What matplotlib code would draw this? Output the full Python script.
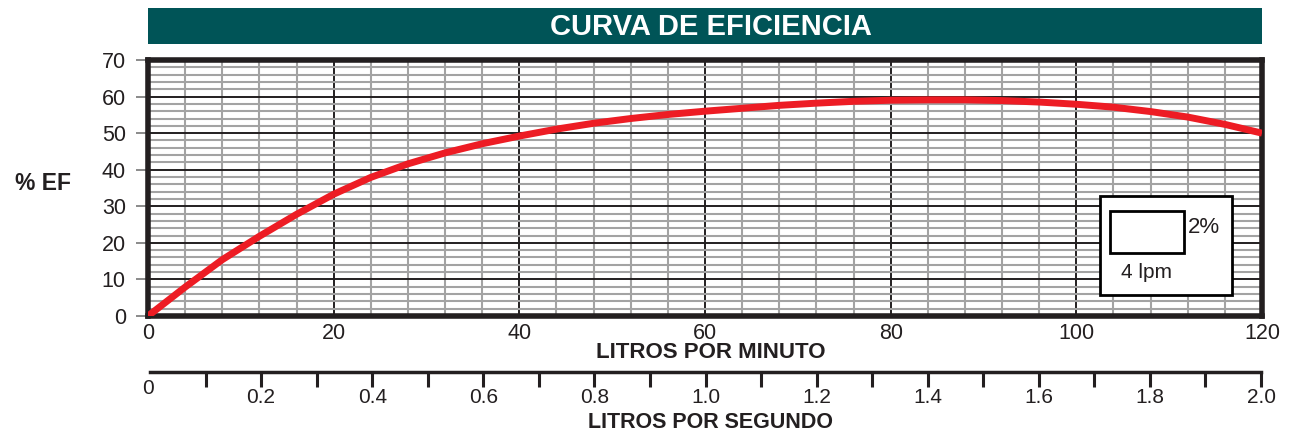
import matplotlib
matplotlib.use("Agg")
import matplotlib.pyplot as plt
from matplotlib.patches import Rectangle
import numpy as np

plt.rcParams['font.family'] = ['Liberation Sans', 'DejaVu Sans']

# ---- data ----
lpm = [0, 4, 8, 12, 16, 20, 24, 28, 32, 36, 40, 44, 48, 52, 56, 60, 64, 68,
       72, 76, 80, 84, 88, 92, 96, 100, 104, 108, 112, 116, 120]
eff = [0, 7.9, 15.4, 21.8, 27.8, 33.3, 37.9, 41.6, 44.6, 47.1, 49.2, 51.1,
       52.7, 54.0, 55.1, 56.0, 56.8, 57.6, 58.2, 58.7, 59.0, 59.1, 59.1, 58.9,
       58.5, 57.9, 57.1, 55.9, 54.4, 52.4, 50.0]

x_major = [0, 20, 40, 60, 80, 100, 120]
y_major = [0, 10, 20, 30, 40, 50, 60, 70]
lps_major = [0.2, 0.4, 0.6, 0.8, 1.0, 1.2, 1.4, 1.6, 1.8, 2.0]
lps_major_labels = ['0.2', '0.4', '0.6', '0.8', '1.0', '1.2', '1.4', '1.6', '1.8', '2.0']
lps_minor = [0.1, 0.3, 0.5, 0.7, 0.9, 1.1, 1.3, 1.5, 1.7, 1.9]

title = "CURVA DE EFICIENCIA"
xlabel = "LITROS POR MINUTO"
x2label = "LITROS POR SEGUNDO"
ylabel = "% EF"
legend_y = "2%"
legend_x = "4 lpm"

W, H = 1289, 432
fig = plt.figure(figsize=(W / 100, H / 100), dpi=100)

def fx(px):
    return px / W

def fy(py):
    return 1 - py / H

L, R, T, B = 148, 1262, 60, 316
ax = fig.add_axes([fx(L), fy(B), fx(R) - fx(L), fy(T) - fy(B)])
ax.set_xlim(0, 120)
ax.set_ylim(0, 70)

# grid
ax.set_xticks(x_major)
ax.set_yticks(y_major)
ax.set_xticks(np.arange(0, 121, 4), minor=True)
ax.set_yticks(np.arange(0, 71, 2), minor=True)
ax.grid(which='minor', color='#a3a3a3', lw=1.5, zorder=0)
ax.grid(which='major', color='#231f20', lw=1.4, zorder=1)
ax.set_axisbelow(True)

ax.plot(lpm, eff, color='#ed1c24', lw=5, solid_capstyle='butt',
        solid_joinstyle='round', zorder=3)

for s in ax.spines.values():
    s.set_linewidth(4)
    s.set_color('#231f20')

ax.tick_params(axis='x', which='both', length=0, pad=5, labelsize=15.5, labelcolor='#231f20')
ax.tick_params(axis='y', which='major', length=9, width=1.2, color='#777777',
               pad=7, labelsize=15.5, labelcolor='#231f20')
ax.tick_params(axis='y', which='minor', length=0)
ax.set_xticklabels([str(v) for v in x_major])
ax.set_yticklabels([str(v) for v in y_major])

fig.text(fx(711), fy(353), xlabel, ha='center', va='center', fontsize=16,
         fontweight='bold', color='#231f20')
fig.text(fx(43), fy(183), ylabel, ha='center', va='center', fontsize=16.5,
         fontweight='bold', color='#231f20')

# legend box
ax.add_patch(Rectangle((0.8546, 0.082), 0.1185, 0.387, transform=ax.transAxes,
                       facecolor='white', edgecolor='black', lw=2, zorder=5))
ax.add_patch(Rectangle((0.8636, 0.246), 0.0664, 0.164, transform=ax.transAxes,
                       facecolor='white', edgecolor='black', lw=2, zorder=6))
ax.text(0.9335, 0.345, legend_y, transform=ax.transAxes, ha='left', va='center',
        fontsize=16, zorder=7, color='#231f20')
ax.text(0.8966, 0.17, legend_x, transform=ax.transAxes, ha='center', va='center',
        fontsize=15, zorder=7, color='#231f20')

# title bar
bar = fig.add_axes([fx(L), fy(44), fx(R) - fx(L), fy(8) - fy(44)])
bar.set_facecolor('#005457')
bar.set_xticks([]); bar.set_yticks([])
for s in bar.spines.values():
    s.set_visible(False)
bar.text(0.505, 0.47, title, transform=bar.transAxes, ha='center', va='center',
         color='white', fontsize=21, fontweight='bold')

# secondary axis (litros por segundo)
ax2 = fig.add_axes([fx(150), fy(372), fx(1261) - fx(150), 0.0001])
ax2.set_xlim(0, 2.0)
for k in ['left', 'right', 'top']:
    ax2.spines[k].set_visible(False)
ax2.spines['bottom'].set_linewidth(2.5)
ax2.spines['bottom'].set_color('#231f20')
ax2.set_yticks([])
ax2.set_xticks(lps_major)
ax2.set_xticklabels(lps_major_labels)
ax2.set_xticks(lps_minor, minor=True)
ax2.tick_params(axis='x', which='both', direction='out', length=11, width=2.2,
                color='#231f20', pad=0.5, labelsize=15, labelcolor='#231f20')
ax2.patch.set_visible(False)
fig.text(fx(148), fy(389), '0', ha='center', va='center', fontsize=15, color='#231f20')
fig.text(fx(711), fy(422), x2label, ha='center', va='center', fontsize=15.5,
         fontweight='bold', color='#231f20')

fig.savefig('out.png', dpi=100)
